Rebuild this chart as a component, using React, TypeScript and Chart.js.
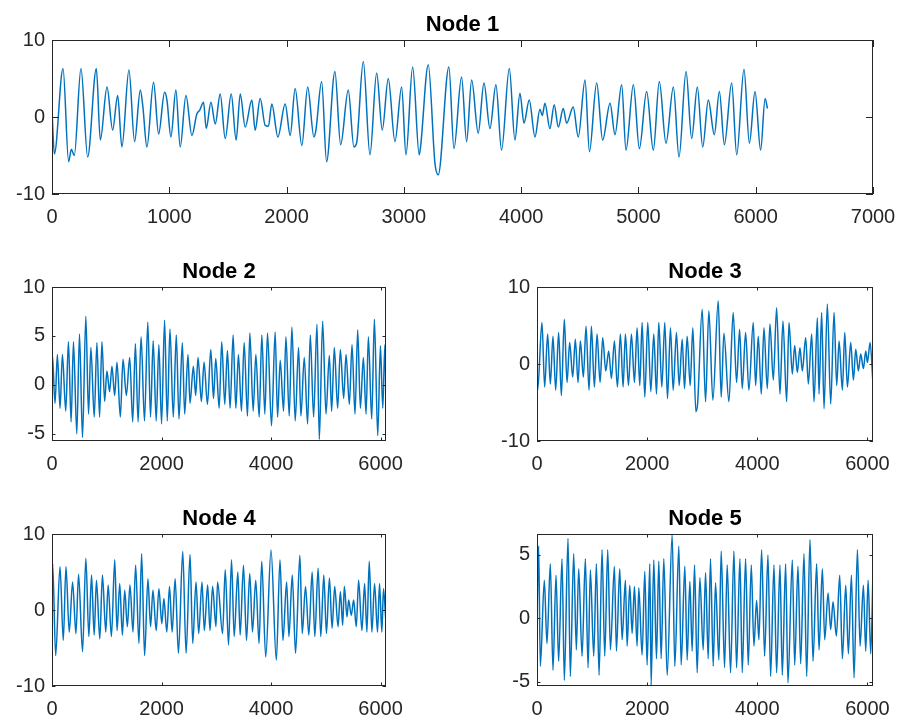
import React, { useEffect, useRef } from "react";
import { Chart, registerables } from "chart.js";

Chart.register(...registerables);

// ---------------- data (peaks / troughs) ----------------
const node1X = [0, 20, 94, 142, 165, 190, 247, 304, 378, 412, 469, 517, 560, 596, 656, 704, 753, 775, 809, 866, 909, 960, 980, 1014, 1056, 1093, 1142, 1193, 1235, 1260, 1292, 1315, 1355, 1392, 1434, 1477, 1528, 1570, 1605, 1647, 1704, 1732, 1775, 1818, 1845, 1874, 1926, 1988, 2031, 2073, 2130, 2180, 2233, 2250, 2299, 2341, 2412, 2461, 2526, 2574, 2597, 2654, 2711, 2768, 2816, 2867, 2924, 2981, 3018, 3075, 3131, 3143, 3208, 3265, 3293, 3384, 3427, 3492, 3535, 3578, 3634, 3683, 3734, 3785, 3833, 3899, 3947, 3990, 4024, 4069, 4118, 4160, 4180, 4203, 4245, 4282, 4317, 4359, 4388, 4444, 4487, 4545, 4582, 4644, 4695, 4758, 4800, 4857, 4894, 4957, 5008, 5070, 5127, 5178, 5235, 5298, 5346, 5406, 5454, 5502, 5548, 5596, 5647, 5690, 5733, 5795, 5838, 5900, 5946, 5994, 6042, 6080, 6100];
const node1Y = [0.9, -4.8, 6.3, -5.8, -4.2, -5.0, 6.3, -5.2, 6.3, -3.0, 3.9, -1.7, 2.8, -3.9, 6.1, -3.2, 3.5, 1.3, -3.9, 4.5, -2.2, 3.2, 2.2, -2.6, 3.5, -3.9, 2.8, -2.4, 0.4, 0.9, 1.9, -1.5, 1.9, -0.9, 3.0, -2.8, 3.0, -3.0, 3.0, -1.3, 2.2, -1.7, 2.4, -1.1, -1.2, 1.7, -2.6, 1.7, -2.4, 3.7, -3.7, 3.9, -2.6, -1.7, 4.6, -5.8, 5.9, -3.6, 3.5, -3.9, -3.4, 7.2, -4.9, 5.7, -1.7, 5.0, -3.2, 3.9, -4.9, 6.5, -4.9, -3.8, 6.8, -6.0, -7.5, 6.5, -4.1, 5.2, -3.2, 4.8, -2.1, 4.4, -1.5, 4.2, -4.3, 6.3, -3.0, 3.1, -0.8, 2.2, -2.6, 1.0, 0.2, 1.8, -1.5, 1.6, -1.3, 1.1, -0.8, 1.3, -2.6, 4.8, -4.5, 4.4, -3.0, 1.8, -2.3, 4.2, -4.3, 4.2, -4.1, 3.3, -4.3, 4.6, -3.4, 3.9, -5.2, 5.9, -2.8, 3.9, -3.9, 2.2, -2.3, 3.3, -3.6, 4.4, -4.9, 6.2, -3.4, 3.3, -4.3, 2.4, 1.1];

const node2X = [0, 6, 55, 98, 147, 190, 251, 300, 349, 392, 453, 502, 557, 618, 667, 710, 771, 820, 869, 912, 961, 1003, 1052, 1095, 1144, 1187, 1248, 1297, 1358, 1419, 1474, 1523, 1572, 1627, 1689, 1750, 1799, 1848, 1903, 1952, 2001, 2056, 2105, 2154, 2215, 2270, 2319, 2380, 2423, 2484, 2520, 2582, 2624, 2667, 2728, 2777, 2839, 2900, 2949, 2991, 3053, 3100, 3155, 3204, 3253, 3308, 3357, 3405, 3460, 3509, 3570, 3613, 3674, 3723, 3784, 3832, 3887, 3936, 4009, 4076, 4119, 4168, 4229, 4272, 4333, 4381, 4442, 4503, 4546, 4607, 4668, 4717, 4778, 4839, 4882, 4943, 5004, 5065, 5107, 5156, 5217, 5266, 5327, 5370, 5431, 5479, 5534, 5583, 5632, 5687, 5736, 5778, 5839, 5888, 5949, 5998, 6041, 6080, 6100];
const node2Y = [2.5, 3.1, -1.9, 3.1, -2.4, 3.1, -2.7, 4.4, -3.8, 4.4, -5.0, 5.2, -5.4, 7.0, -3.0, 3.8, -3.3, 4.3, -3.3, 4.4, -1.7, 1.4, -0.7, 1.9, -1.1, 2.3, -3.3, 2.6, -1.1, 2.8, -3.8, 4.2, -3.8, 4.9, -3.7, 6.4, -3.3, 4.5, -3.7, 4.1, -4.0, 6.6, -3.7, 5.7, -3.3, 5.1, -3.5, 4.3, -3.0, 3.1, -1.9, 1.9, -1.1, 2.8, -1.7, 2.3, -2.0, 3.6, -1.4, 2.7, -2.4, 4.4, -2.0, 3.5, -2.4, 5.1, -2.4, 3.1, -2.7, 4.3, -3.2, 5.3, -2.7, 3.1, -3.3, 5.1, -3.0, 5.3, -4.2, 5.4, -3.3, 2.5, -2.7, 4.9, -3.2, 5.9, -3.7, 3.8, -3.2, 2.8, -4.0, 5.1, -3.3, 6.2, -5.6, 6.5, -3.0, 3.0, -2.7, 3.8, -2.4, 3.6, -1.4, 3.1, -2.0, 4.1, -3.0, 5.6, -2.4, 2.8, -3.0, 4.9, -3.5, 6.7, -5.2, 4.0, -2.4, 4.1, -1.0];

const node3X = [0, 12, 90, 139, 193, 242, 290, 339, 393, 442, 496, 545, 593, 648, 696, 745, 787, 842, 890, 945, 987, 1042, 1090, 1145, 1193, 1248, 1302, 1351, 1405, 1460, 1514, 1563, 1605, 1660, 1714, 1769, 1817, 1866, 1908, 1957, 2011, 2066, 2120, 2169, 2211, 2266, 2320, 2369, 2423, 2472, 2532, 2581, 2636, 2678, 2726, 2781, 2829, 2884, 2915, 2999, 3060, 3120, 3193, 3290, 3344, 3393, 3484, 3562, 3623, 3678, 3726, 3787, 3847, 3926, 3969, 4017, 4072, 4120, 4181, 4229, 4290, 4350, 4411, 4465, 4532, 4575, 4635, 4678, 4726, 4774, 4817, 4878, 4926, 4987, 5029, 5090, 5120, 5168, 5211, 5271, 5332, 5393, 5441, 5484, 5544, 5587, 5635, 5696, 5744, 5787, 5835, 5877, 5926, 5968, 5999, 6047, 6100];
const node3Y = [0.5, -3.4, 5.4, -3.0, 3.9, -2.6, 3.6, -3.4, 4.1, -4.1, 5.8, -2.4, 2.8, -1.7, 3.2, -2.4, 3.0, -1.7, 4.9, -3.4, 4.9, -3.0, 3.9, -2.4, 3.4, -0.9, 1.7, -1.9, 3.0, -3.0, 3.9, -3.0, 3.9, -2.8, 3.9, -2.4, 4.7, -2.8, 5.4, -4.3, 5.4, -3.6, 3.9, -3.9, 5.4, -3.0, 5.4, -4.5, 4.7, -3.4, 4.1, -2.8, 3.2, -3.2, 3.6, -2.8, 4.7, -6.2, -5.2, 7.1, -4.9, 6.9, -4.7, 8.2, -4.3, 4.0, -4.9, 6.7, -2.4, 4.5, -3.2, 4.1, -3.4, 5.4, -2.8, 3.6, -3.9, 4.7, -3.2, 5.2, -2.1, 7.3, -3.9, 5.6, -4.9, 5.4, -1.3, 2.4, -1.1, 2.1, -0.9, 3.4, -2.6, 3.9, -4.9, 6.0, -3.9, 6.7, -5.8, 7.8, -5.2, 6.7, -2.8, 3.0, -3.4, 4.1, -3.0, 2.8, -2.1, 1.9, -0.9, 1.3, -0.6, 1.7, 0.2, 2.8, -2.6];

const node4X = [0, 12, 67, 146, 206, 255, 315, 376, 437, 485, 558, 618, 673, 722, 770, 812, 873, 921, 982, 1025, 1085, 1146, 1188, 1237, 1285, 1328, 1376, 1424, 1479, 1527, 1588, 1637, 1691, 1752, 1800, 1843, 1903, 1952, 2006, 2043, 2097, 2146, 2194, 2249, 2309, 2388, 2449, 2521, 2570, 2630, 2679, 2739, 2782, 2843, 2885, 2933, 2994, 3024, 3115, 3164, 3224, 3279, 3327, 3394, 3436, 3497, 3552, 3612, 3661, 3721, 3782, 3830, 3903, 4000, 4097, 4164, 4218, 4285, 4327, 4388, 4448, 4527, 4570, 4630, 4691, 4751, 4800, 4860, 4909, 4964, 5012, 5067, 5115, 5163, 5224, 5267, 5309, 5339, 5388, 5418, 5466, 5509, 5557, 5600, 5660, 5709, 5751, 5794, 5842, 5891, 5945, 5982, 6024, 6054, 6100];
const node4Y = [0.0, 6.1, -6.0, 5.7, -4.0, 5.7, -2.9, 3.7, -3.1, 4.7, -5.5, 6.8, -3.5, 4.6, -3.3, 3.9, -3.8, 4.6, -2.9, 3.3, -3.5, 6.6, -2.7, 3.5, -3.3, 2.6, -2.2, 3.3, -2.9, 5.9, -4.4, 7.4, -6.0, 4.1, -2.2, 2.6, -2.7, 2.8, -1.8, 1.5, -2.9, 3.1, -2.9, 4.1, -5.7, 7.7, -5.7, 7.3, -4.4, 3.7, -3.1, 3.7, -2.7, 3.3, -2.7, 3.1, -2.2, 3.7, -3.1, 5.3, -4.6, 6.6, -3.5, 5.0, -3.3, 5.9, -4.0, 4.8, -2.9, 3.9, -4.4, 6.4, -6.2, 7.9, -6.6, 6.6, -4.0, 3.7, -3.5, 4.6, -5.7, 7.2, -3.1, 3.1, -3.3, 5.0, -3.5, 5.5, -3.5, 4.6, -3.1, 4.2, -2.4, 3.1, -2.2, 2.4, -2.0, 3.1, -0.9, 1.3, -0.7, 1.3, -2.2, 3.9, -2.7, 3.5, -2.9, 6.4, -2.9, 3.5, -2.9, 3.5, -2.9, 2.8, -1.8];

const node5X = [0, 30, 60, 133, 181, 242, 290, 345, 393, 454, 496, 563, 605, 666, 714, 757, 818, 878, 927, 969, 1030, 1078, 1127, 1181, 1230, 1284, 1333, 1405, 1442, 1502, 1545, 1605, 1636, 1684, 1727, 1769, 1817, 1848, 1908, 1957, 1999, 2048, 2072, 2120, 2169, 2211, 2254, 2302, 2363, 2454, 2502, 2575, 2617, 2684, 2726, 2775, 2817, 2860, 2908, 2957, 3017, 3060, 3108, 3150, 3199, 3241, 3302, 3344, 3405, 3453, 3514, 3575, 3623, 3684, 3726, 3787, 3835, 3890, 3938, 3987, 4029, 4078, 4132, 4193, 4241, 4302, 4350, 4411, 4453, 4514, 4556, 4635, 4678, 4738, 4787, 4847, 4896, 4956, 5011, 5077, 5120, 5181, 5223, 5284, 5332, 5374, 5435, 5496, 5544, 5605, 5653, 5708, 5756, 5817, 5865, 5926, 5968, 6011, 6059, 6100];
const node5Y = [0.0, 5.7, -3.8, 3.0, -2.0, 4.3, -4.1, 3.4, -3.4, 4.7, -4.9, 6.3, -4.6, 5.1, -2.5, 3.9, -3.0, 4.7, -3.9, 3.8, -3.0, 4.3, -4.5, 5.4, -3.0, 5.4, -2.5, 4.1, -2.6, 3.9, -1.7, 3.0, -2.2, 2.6, -1.2, 2.5, -2.2, 2.4, -2.9, 3.7, -3.7, 4.3, -5.3, 4.6, -3.2, 4.5, -3.2, 4.7, -4.5, 6.6, -3.8, 5.7, -3.7, 4.1, -3.3, 2.9, -2.6, 4.2, -4.3, 3.2, -2.5, 3.6, -3.2, 4.7, -3.8, 2.8, -3.3, 5.3, -3.9, 4.2, -4.3, 5.3, -3.9, 4.7, -4.3, 4.7, -3.7, 4.2, -2.2, 1.4, -1.7, 5.4, -3.0, 5.0, -4.6, 4.2, -4.3, 4.2, -4.5, 4.3, -5.1, 4.6, -3.7, 4.1, -3.6, 5.1, -4.6, 6.2, -3.4, 4.3, -2.5, 3.9, -1.7, 2.0, -0.9, 1.3, -1.4, 3.4, -3.2, 2.6, -2.8, 3.4, -4.7, 5.4, -2.2, 2.6, -2.6, 3.0, -2.8, 3.6];

const titles = ["Node 1", "Node 2", "Node 3", "Node 4", "Node 5"];
const xTicksWide = [0, 1000, 2000, 3000, 4000, 5000, 6000, 7000];
const xTicksNarrow = [0, 2000, 4000, 6000];
const yTicksTen = [-10, 0, 10];
const yTicksNode2 = [-5, 0, 5, 10];
const yTicksNode5 = [-5, 0, 5];

// ---------------- layout ----------------
const FONT = "'Liberation Sans', Arial, Helvetica, sans-serif";
const AXIS_COLOR = "#262626";
const LINE_COLOR = "#0072BD";
const PAD = { l: 62, t: 44, r: 45, b: 40 };

type Panel = {
  title: string;
  xs: number[];
  ys: number[];
  xMax: number;
  yMin: number;
  yMax: number;
  xTicks: number[];
  yTicks: number[];
  box: { l: number; t: number; r: number; b: number };
  tickLen: number;
};

const panels: Panel[] = [
  { title: titles[0], xs: node1X, ys: node1Y, xMax: 7000, yMin: -10, yMax: 10, xTicks: xTicksWide, yTicks: yTicksTen, box: { l: 52, t: 40, r: 873, b: 194 }, tickLen: 7 },
  { title: titles[1], xs: node2X, ys: node2Y, xMax: 6100, yMin: -5.75, yMax: 10, xTicks: xTicksNarrow, yTicks: yTicksNode2, box: { l: 52, t: 287, r: 386, b: 441 }, tickLen: 3.5 },
  { title: titles[2], xs: node3X, ys: node3Y, xMax: 6100, yMin: -10, yMax: 10, xTicks: xTicksNarrow, yTicks: yTicksTen, box: { l: 537, t: 287, r: 873, b: 441 }, tickLen: 3.5 },
  { title: titles[3], xs: node4X, ys: node4Y, xMax: 6100, yMin: -10, yMax: 10, xTicks: xTicksNarrow, yTicks: yTicksTen, box: { l: 52, t: 534, r: 386, b: 686 }, tickLen: 3.5 },
  { title: titles[4], xs: node5X, ys: node5Y, xMax: 6100, yMin: -5.35, yMax: 6.65, xTicks: xTicksNarrow, yTicks: yTicksNode5, box: { l: 537, t: 534, r: 873, b: 686 }, tickLen: 3.5 },
];

function PanelChart({ p }: { p: Panel }) {
  const ref = useRef<HTMLCanvasElement | null>(null);
  const w = p.box.r - p.box.l + PAD.l + PAD.r;
  const h = p.box.b - p.box.t + PAD.t + PAD.b;

  useEffect(() => {
    if (!ref.current) return;
    const framePlugin = {
      id: "matlabFrame",
      afterDatasetsDraw(chart: any) {
        const { ctx, chartArea, scales } = chart;
        const { left, top, right, bottom } = chartArea;
        ctx.save();
        ctx.strokeStyle = AXIS_COLOR;
        ctx.lineWidth = 1;
        ctx.strokeRect(Math.round(left) + 0.5, Math.round(top) + 0.5, Math.round(right - left) - 1, Math.round(bottom - top) - 1);
        ctx.beginPath();
        p.xTicks.forEach((v) => {
          const x = Math.round(scales.x.getPixelForValue(v)) + 0.5;
          ctx.moveTo(x, bottom);
          ctx.lineTo(x, bottom - p.tickLen);
          ctx.moveTo(x, top);
          ctx.lineTo(x, top + p.tickLen);
        });
        p.yTicks.forEach((v) => {
          const y = Math.round(scales.y.getPixelForValue(v)) + 0.5;
          ctx.moveTo(left, y);
          ctx.lineTo(left + p.tickLen, y);
          ctx.moveTo(right, y);
          ctx.lineTo(right - p.tickLen, y);
        });
        ctx.stroke();
        ctx.restore();
      },
      afterDraw(chart: any) {
        const { ctx, chartArea } = chart;
        ctx.save();
        ctx.font = `bold 22px ${FONT}`;
        ctx.fillStyle = "#000000";
        ctx.textAlign = "center";
        ctx.textBaseline = "alphabetic";
        ctx.fillText(p.title, (chartArea.left + chartArea.right) / 2, chartArea.top - 9);
        ctx.restore();
      },
    };

    const tickFont = { family: FONT, size: 20 };
    const chart = new Chart(ref.current, {
      type: "line",
      data: {
        datasets: [
          {
            data: p.xs.map((x, i) => ({ x, y: p.ys[i] })),
            borderColor: LINE_COLOR,
            borderWidth: 1.5,
            pointRadius: 0,
            fill: false,
            cubicInterpolationMode: "monotone",
          },
        ],
      },
      options: {
        responsive: false,
        animation: false,
        devicePixelRatio: 1,
        events: [],
        layout: { padding: { left: 0, top: PAD.t, right: PAD.r, bottom: 0 }, autoPadding: false },
        plugins: { legend: { display: false }, tooltip: { enabled: false }, title: { display: false } },
        scales: {
          x: {
            type: "linear",
            min: 0,
            max: p.xMax,
            afterFit: (s: any) => { s.height = PAD.b; },
            afterBuildTicks: (s: any) => { s.ticks = p.xTicks.map((v) => ({ value: v })); },
            grid: { display: false, drawTicks: false },
            border: { display: false },
            ticks: { padding: 11, font: tickFont, color: AXIS_COLOR, maxRotation: 0, autoSkip: false, callback: (v: any) => String(v) },
          },
          y: {
            type: "linear",
            min: p.yMin,
            max: p.yMax,
            afterFit: (s: any) => { s.width = PAD.l; },
            afterBuildTicks: (s: any) => { s.ticks = p.yTicks.map((v) => ({ value: v })); },
            grid: { display: false, drawTicks: false },
            border: { display: false },
            ticks: { padding: 7, font: tickFont, color: AXIS_COLOR, autoSkip: false, callback: (v: any) => String(v) },
          },
        },
      } as any,
      plugins: [framePlugin],
    });
    return () => chart.destroy();
  }, []);

  return (
    <canvas
      ref={ref}
      width={w}
      height={h}
      style={{ position: "absolute", left: p.box.l - PAD.l, top: p.box.t - PAD.t, width: w, height: h }}
    />
  );
}

export default function App() {
  return (
    <div style={{ position: "absolute", left: 0, top: 0, width: 900, height: 722, background: "#ffffff", overflow: "hidden" }}>
      {panels.map((p) => (
        <PanelChart key={p.title} p={p} />
      ))}
    </div>
  );
}
